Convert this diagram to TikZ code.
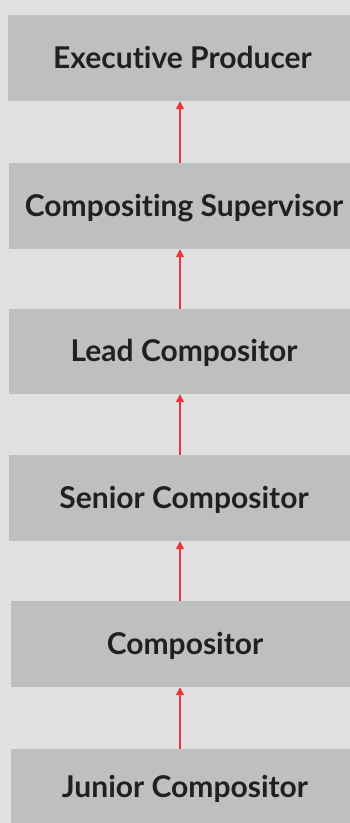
\documentclass[tikz,border=0pt]{standalone}
\usepackage{fontspec}
\setmainfont{Lato}[RawFeature=-liga]
\usetikzlibrary{arrows.meta}
\definecolor{pagebg}{HTML}{E1E1E1}
\definecolor{boxfill}{HTML}{BEBFC1}
\definecolor{inktext}{HTML}{231F20}
\definecolor{linkred}{HTML}{F2333D}
\begin{document}
\begin{tikzpicture}[x=1pt,y=-1pt,
  rolebox/.style={rectangle, fill=boxfill, inner sep=0pt, minimum width=350pt,
    minimum height=86pt, text height=25pt, text depth=5pt, text=inktext,
    font=\fontsize{30}{36}\selectfont\bfseries},
  uplink/.style={draw=linkred, line width=1.5pt, -{Triangle[length=8pt,width=8pt]}}]
  \fill[pagebg] (0,0) rectangle (350,823);
  \useasboundingbox (0,0) rectangle (350,823);
  \begin{scope}
    \clip (0,0) rectangle (350,823);
    \node[rolebox] (ep) at (182.5,58) {Executive Producer};
    \node[rolebox] (cs) at (184,206) {Compositing Supervisor};
    \node[rolebox, minimum height=85pt] (lc) at (184,351.5) {Lead Compositor};
    \node[rolebox] (sc) at (184,498) {Senior Compositor};
    \node[rolebox, minimum width=348pt] (co) at (185,644) {Compositor};
    \node[rolebox, minimum width=348pt, minimum height=76pt] (jc) at (185,787) {Junior Compositor};
  \end{scope}
  \coordinate (ax) at (180,0);
  \draw[uplink] (cs.north -| ax) -- (ep.south -| ax);
  \draw[uplink] (lc.north -| ax) -- (cs.south -| ax);
  \draw[uplink] (sc.north -| ax) -- (lc.south -| ax);
  \draw[uplink] (co.north -| ax) -- (sc.south -| ax);
  \draw[uplink] (jc.north -| ax) -- (co.south -| ax);
\end{tikzpicture}
\end{document}
